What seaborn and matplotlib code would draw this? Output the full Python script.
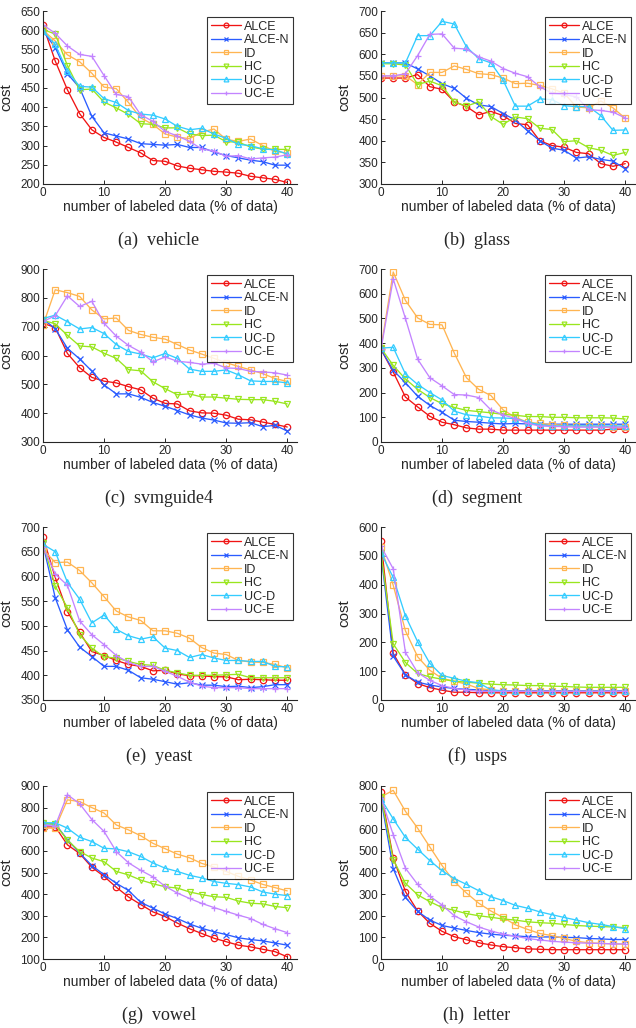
import numpy as np
import pandas as pd
import seaborn as sns
import matplotlib
matplotlib.use("Agg")
import matplotlib.pyplot as plt

# x axis: percentage of labeled data
pct = list(range(0, 41, 2))

methods = ["ALCE", "ALCE-N", "ID", "HC", "UC-D", "UC-E"]
colors = ["#f01414", "#2a5cff", "#ffb552", "#99e61e", "#33ccff", "#c384ff"]
markers = ["o", "x", "s", "v", "^", "+"]

vehicle = {
    "ALCE":   [613, 520, 445, 383, 341, 321, 309, 295, 281, 261, 259, 247, 241, 237, 233, 231, 228, 220, 216, 212, 204],
    "ALCE-N": [598, 555, 487, 450, 376, 333, 325, 317, 305, 303, 301, 303, 295, 295, 283, 274, 268, 262, 258, 249, 249],
    "ID":     [600, 572, 536, 518, 488, 452, 448, 412, 372, 355, 330, 322, 318, 335, 343, 316, 311, 317, 300, 285, 280],
    "HC":     [602, 590, 508, 445, 447, 413, 398, 381, 357, 355, 346, 346, 330, 326, 327, 310, 309, 296, 291, 290, 290],
    "UC-D":   [598, 563, 493, 454, 452, 422, 412, 391, 382, 379, 369, 350, 341, 345, 330, 319, 303, 300, 291, 289, 278],
    "UC-E":   [614, 592, 559, 537, 532, 482, 433, 427, 380, 363, 337, 325, 311, 291, 286, 272, 274, 265, 268, 270, 276],
}
glass = {
    "ALCE":   [545, 545, 545, 553, 525, 519, 490, 479, 460, 468, 458, 440, 437, 400, 389, 385, 373, 370, 347, 341, 347],
    "ALCE-N": [580, 580, 580, 566, 550, 532, 521, 498, 483, 479, 463, 448, 423, 400, 383, 378, 360, 363, 357, 353, 335],
    "ID":     [550, 550, 550, 530, 558, 558, 573, 565, 555, 553, 545, 532, 533, 528, 520, 510, 478, 476, 492, 476, 452],
    "HC":     [578, 578, 575, 530, 538, 527, 490, 480, 490, 456, 438, 455, 451, 429, 426, 398, 400, 384, 378, 366, 373],
    "UC-D":   [580, 580, 580, 643, 643, 676, 670, 617, 590, 580, 540, 480, 480, 497, 495, 481, 479, 479, 458, 424, 425],
    "UC-E":   [550, 550, 555, 597, 646, 647, 614, 612, 594, 584, 567, 556, 548, 525, 510, 506, 502, 472, 470, 466, 453],
}
svmguide4 = {
    "ALCE":   [712, 697, 607, 558, 524, 511, 505, 492, 481, 452, 434, 432, 408, 401, 400, 393, 379, 377, 369, 361, 352],
    "ALCE-N": [727, 693, 625, 588, 546, 498, 467, 467, 455, 437, 424, 409, 394, 383, 376, 366, 365, 367, 353, 358, 338],
    "ID":     [705, 828, 818, 805, 758, 727, 730, 687, 673, 663, 657, 638, 619, 605, 590, 575, 562, 550, 537, 520, 510],
    "HC":     [722, 710, 670, 633, 630, 608, 590, 551, 547, 509, 485, 464, 467, 456, 456, 452, 448, 447, 447, 441, 432],
    "UC-D":   [728, 740, 717, 692, 697, 676, 638, 614, 605, 592, 607, 590, 553, 545, 545, 550, 533, 512, 510, 510, 505],
    "UC-E":   [718, 738, 807, 770, 788, 712, 667, 635, 612, 578, 595, 580, 576, 570, 573, 557, 555, 545, 543, 540, 532],
}
segment = {
    "ALCE":   [375, 283, 182, 142, 104, 80, 70, 57, 52, 52, 48, 48, 48, 48, 48, 48, 48, 48, 48, 52, 52],
    "ALCE-N": [375, 290, 240, 185, 148, 120, 88, 83, 80, 76, 73, 75, 73, 72, 72, 72, 72, 72, 72, 72, 72],
    "ID":     [380, 688, 573, 502, 476, 474, 360, 260, 213, 188, 130, 100, 80, 75, 70, 68, 65, 65, 63, 60, 60],
    "HC":     [380, 310, 255, 213, 180, 155, 140, 128, 123, 118, 112, 108, 103, 103, 100, 100, 98, 98, 98, 97, 93],
    "UC-D":   [380, 383, 275, 233, 200, 170, 125, 110, 105, 98, 97, 95, 80, 70, 65, 65, 65, 65, 65, 65, 65],
    "UC-E":   [375, 660, 500, 335, 260, 227, 192, 190, 180, 130, 110, 95, 75, 65, 63, 62, 60, 60, 60, 60, 60],
}
yeast = {
    "ALCE":   [680, 598, 529, 487, 448, 440, 430, 422, 418, 409, 410, 403, 399, 399, 397, 397, 391, 392, 391, 390, 390],
    "ALCE-N": [665, 557, 492, 457, 438, 418, 418, 410, 395, 392, 387, 382, 385, 380, 380, 377, 378, 375, 377, 381, 381],
    "ID":     [655, 628, 629, 612, 587, 559, 530, 518, 511, 490, 490, 485, 475, 456, 445, 442, 430, 427, 426, 422, 415],
    "HC":     [668, 580, 537, 482, 455, 437, 435, 428, 422, 420, 410, 405, 400, 400, 400, 401, 402, 395, 395, 395, 395],
    "UC-D":   [665, 650, 588, 554, 506, 522, 493, 480, 473, 478, 455, 450, 436, 442, 435, 430, 430, 428, 428, 418, 417],
    "UC-E":   [660, 605, 582, 510, 482, 462, 440, 426, 418, 418, 408, 398, 386, 378, 375, 375, 375, 373, 373, 373, 373],
}
usps = {
    "ALCE":   [550, 162, 88, 57, 43, 34, 27, 27, 25, 25, 25, 25, 25, 25, 25, 25, 25, 25, 25, 25, 25],
    "ALCE-N": [505, 152, 87, 62, 52, 45, 40, 37, 35, 33, 32, 32, 32, 32, 32, 32, 32, 32, 32, 32, 32],
    "ID":     [530, 398, 240, 150, 103, 75, 65, 55, 40, 35, 30, 30, 30, 30, 30, 30, 30, 30, 30, 30, 30],
    "HC":     [510, 195, 130, 92, 80, 72, 65, 62, 58, 55, 53, 52, 50, 50, 48, 47, 45, 44, 44, 44, 44],
    "UC-D":   [510, 425, 292, 202, 127, 85, 75, 65, 60, 35, 32, 30, 30, 30, 30, 30, 30, 30, 30, 30, 30],
    "UC-E":   [533, 455, 165, 95, 68, 50, 40, 35, 30, 30, 30, 30, 30, 30, 30, 30, 30, 30, 30, 30, 30],
}
vowel = {
    "ALCE":   [710, 712, 628, 588, 524, 482, 432, 387, 352, 318, 296, 266, 240, 218, 196, 180, 164, 156, 145, 134, 110],
    "ALCE-N": [725, 725, 652, 590, 532, 490, 450, 417, 362, 335, 308, 287, 262, 242, 226, 213, 198, 190, 184, 174, 164],
    "ID":     [705, 705, 836, 828, 800, 775, 720, 697, 670, 635, 610, 585, 568, 542, 525, 505, 482, 465, 445, 430, 415],
    "HC":     [730, 722, 650, 597, 567, 550, 505, 489, 465, 448, 434, 428, 410, 398, 388, 385, 368, 358, 355, 343, 337],
    "UC-D":   [730, 730, 705, 663, 643, 612, 609, 596, 574, 544, 520, 505, 487, 475, 458, 450, 444, 433, 410, 400, 393],
    "UC-E":   [718, 715, 860, 818, 745, 690, 597, 545, 510, 480, 436, 405, 380, 357, 338, 320, 303, 287, 260, 240, 222],
}
letter = {
    "ALCE":   [770, 468, 312, 222, 165, 128, 103, 89, 75, 65, 57, 52, 47, 45, 43, 43, 43, 43, 43, 43, 43],
    "ALCE-N": [740, 418, 285, 220, 180, 155, 143, 132, 122, 115, 110, 107, 103, 102, 102, 100, 99, 95, 93, 90, 90],
    "ID":     [750, 780, 683, 605, 518, 432, 358, 305, 258, 222, 192, 158, 137, 118, 108, 95, 82, 75, 72, 70, 68],
    "HC":     [750, 460, 350, 297, 265, 238, 225, 210, 200, 193, 185, 180, 172, 168, 165, 160, 155, 152, 150, 148, 145],
    "UC-D":   [740, 648, 562, 508, 455, 408, 372, 345, 316, 288, 270, 248, 235, 218, 205, 192, 180, 168, 160, 150, 140],
    "UC-E":   [745, 575, 420, 345, 290, 250, 200, 172, 148, 130, 115, 105, 95, 88, 82, 78, 75, 73, 72, 70, 70],
}

panels = [
    ("(a)  vehicle", vehicle, (200, 650), 50),
    ("(b)  glass", glass, (300, 700), 50),
    ("(c)  svmguide4", svmguide4, (300, 900), 100),
    ("(d)  segment", segment, (0, 700), 100),
    ("(e)  yeast", yeast, (350, 700), 50),
    ("(f)  usps", usps, (0, 600), 100),
    ("(g)  vowel", vowel, (100, 900), 100),
    ("(h)  letter", letter, (0, 800), 100),
]

sns.set_style("ticks")
plt.rcParams["font.family"] = ["Liberation Sans", "DejaVu Sans"]
plt.rcParams["xtick.direction"] = "in"
plt.rcParams["ytick.direction"] = "in"

W, H = 636, 1028
fig = plt.figure(figsize=(W / 100, H / 100), dpi=100)

col_left = [43, 381]
row_top = [11, 269, 527, 786]
ax_w, ax_h = 254, 173
ink = "#262626"

for i, (caption, data, ylim, ystep) in enumerate(panels):
    r, c = divmod(i, 2)
    left = col_left[c]
    top = row_top[r]
    ax = fig.add_axes([left / W, 1 - (top + ax_h) / H, ax_w / W, ax_h / H])

    for m, col, mk in zip(methods, colors, markers):
        df = pd.DataFrame({"pct": pct, "cost": data[m]})
        sns.lineplot(data=df, x="pct", y="cost", ax=ax, color=col, marker=mk,
                     markersize=4.6, markerfacecolor="none", markeredgecolor=col,
                     markeredgewidth=0.9, linewidth=0.95, label=m)

    ax.set_xlim(0, 41.6)
    ax.set_ylim(*ylim)
    ax.set_xticks([0, 10, 20, 30, 40])
    ax.set_yticks(np.arange(ylim[0], ylim[1] + 1, ystep))
    ax.tick_params(labelsize=8.5, colors=ink, length=3, width=0.7, pad=2)
    for s in ["left", "bottom"]:
        ax.spines[s].set_color(ink)
        ax.spines[s].set_linewidth(0.8)
    sns.despine(ax=ax)
    ax.set_xlabel("number of labeled data (% of data)", fontsize=10, color=ink, labelpad=1)
    ax.set_ylabel("cost", fontsize=11, color=ink)
    ax.yaxis.set_label_coords(-30 / ax_w, 0.5)

    leg = ax.legend(loc="upper right", bbox_to_anchor=(0.985, 0.965), fontsize=9,
                    handlelength=2.4, handletextpad=0.25, labelspacing=0.12,
                    borderpad=0.3, borderaxespad=0, frameon=True, fancybox=False,
                    markerscale=0.75)
    leg.get_frame().set_edgecolor("black")
    leg.get_frame().set_linewidth(0.8)

    cx = (159 + 318 * c) / W
    cy = 1 - (top + ax_h + 56) / H
    fig.text(cx, cy, caption, ha="center", va="center", fontsize=13,
             family=["Liberation Serif", "DejaVu Serif"])

fig.savefig("out.png", dpi=100)
